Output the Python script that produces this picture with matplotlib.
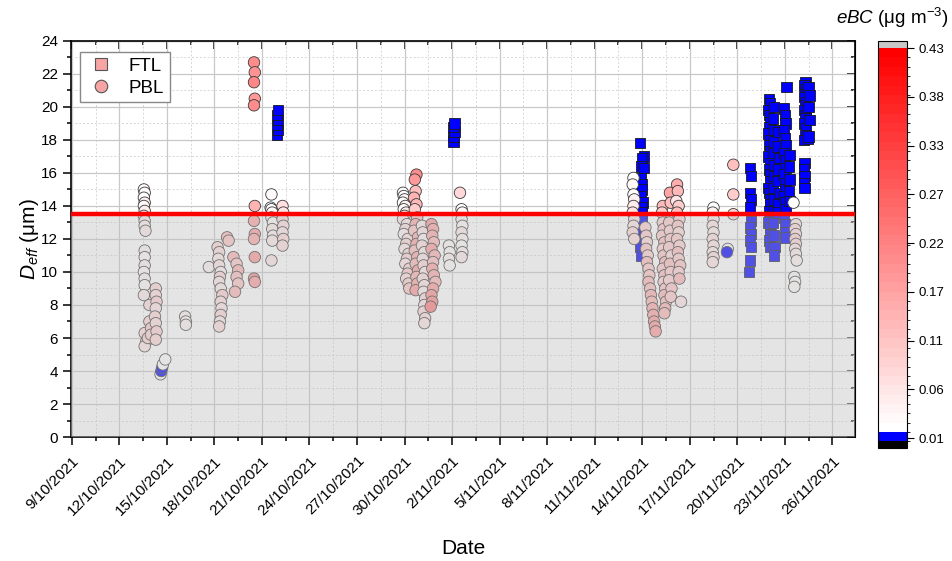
import matplotlib.pyplot as plt
import matplotlib.dates as mdates
import matplotlib.colors as mcolors
from matplotlib.ticker import FixedLocator, FuncFormatter, MultipleLocator
from matplotlib.lines import Line2D
import numpy as np
from datetime import datetime

start = datetime(2021, 10, 9)

# PBL (circles): time in days after 9/10/2021, Deff in um, eBC in ug m-3
pbl_day = [
    4.55, 4.60, 4.55, 4.60, 4.55, 4.60, 4.55, 4.60, 4.60, 4.65, 4.60, 4.60, 4.60, 4.55, 4.60, 4.60, 4.55,
    4.60, 4.70, 4.60, 4.80, 4.90, 4.90, 5.00, 5.00, 5.30, 5.30, 5.35, 5.30, 5.25, 5.30, 5.35, 5.30,
    5.60, 5.65, 5.70, 5.75, 5.90,
    7.15, 7.20, 7.20,
    8.65,
    9.20, 9.30, 9.25, 9.30, 9.40, 9.35, 9.30, 9.40, 9.50, 9.40, 9.45, 9.40, 9.35, 9.30,
    9.80, 9.90, 10.20, 10.40, 10.50, 10.40, 10.50, 10.30,
    11.50, 11.55, 11.50, 11.55, 11.50, 11.55, 11.50, 11.55, 11.50, 11.55, 11.50, 11.55,
    12.60, 12.55, 12.60, 12.65, 12.60, 12.70, 12.65, 12.70, 12.65, 12.60,
    13.30, 13.35, 13.30, 13.35, 13.30, 13.35, 13.30,
    20.90, 20.95, 21.00, 20.90, 21.05, 20.95, 21.10, 21.00, 20.90, 21.15, 21.05, 20.95, 21.20, 21.10,
    21.00, 21.25, 21.15, 21.05, 21.30, 21.20, 21.10, 21.25, 21.30,
    21.75, 21.65, 21.70, 21.60, 21.75, 21.65, 21.80, 21.70, 21.60, 21.85, 21.75, 21.65, 21.80, 21.70,
    21.85, 21.75, 21.80, 21.70,
    22.10, 22.15, 22.20, 22.10, 22.25, 22.15, 22.20, 22.30, 22.15, 22.25, 22.20, 22.30, 22.25, 22.20,
    22.30, 22.25,
    22.70, 22.80, 22.75, 22.85, 22.70, 22.90, 22.80, 22.75, 22.85, 22.95, 22.80, 22.70, 22.75, 22.65,
    23.80, 23.85, 23.80, 23.85,
    24.50, 24.60, 24.65, 24.60, 24.65, 24.60, 24.65, 24.60, 24.65, 24.60,
    35.45, 35.40, 35.45, 35.50, 35.45, 35.40, 35.50, 35.45, 35.40, 35.50,
    36.20, 36.25, 36.30, 36.25, 36.35, 36.30, 36.40, 36.45, 36.40, 36.50, 36.55, 36.60, 36.65, 36.70,
    36.75, 36.80, 36.85,
    37.30, 37.25, 37.30, 37.35, 37.25, 37.40, 37.30, 37.35, 37.45, 37.30, 37.40, 37.35, 37.45, 37.40,
    37.50, 37.45, 37.40,
    37.75, 37.80, 37.70, 37.75, 37.80, 37.70, 37.85, 37.75, 37.80, 37.70, 37.85, 37.80,
    38.20, 38.25, 38.15, 38.30, 38.20, 38.35, 38.25, 38.30, 38.20, 38.35, 38.25, 38.30, 38.40, 38.30,
    38.35, 38.45,
    40.50, 40.45, 40.50, 40.45, 40.50, 40.45, 40.50, 40.45, 40.50, 40.45,
    41.75, 41.75, 41.75, 41.40, 41.35,
    45.55, 45.70, 45.65, 45.70, 45.65, 45.70, 45.65, 45.70, 45.75, 45.60, 45.65, 45.60,
]
pbl_deff = [
    15.0, 14.8, 14.5, 14.2, 14.0, 13.7, 13.4, 13.1, 12.8, 12.5, 11.3, 10.9, 10.4, 10.0, 9.6, 9.2, 8.6,
    6.3, 5.8, 5.5, 6.0, 8.0, 7.0, 6.6, 6.2, 9.0, 8.6, 8.2, 7.8, 7.3, 6.9, 6.4, 5.9,
    3.8, 4.0, 4.2, 4.4, 4.7,
    7.3, 7.0, 6.8,
    10.3,
    11.5, 11.2, 10.8, 10.4, 10.0, 9.7, 9.4, 9.0, 8.6, 8.2, 7.8, 7.4, 7.0, 6.7,
    12.1, 11.9, 10.9, 10.5, 10.1, 9.7, 9.3, 8.8,
    22.7, 22.1, 21.5, 20.5, 20.1, 14.0, 13.1, 12.3, 12.0, 10.9, 9.6, 9.4,
    14.7, 13.9, 13.8, 13.6, 13.3, 13.0, 12.6, 12.2, 11.9, 10.7,
    14.0, 13.6, 13.2, 12.8, 12.4, 12.0, 11.6,
    14.8, 14.6, 14.4, 14.2, 14.0, 13.8, 13.6, 13.4, 13.2, 12.9, 12.6, 12.3, 12.0, 11.7,
    11.4, 11.1, 10.8, 10.5, 10.2, 9.9, 9.6, 9.3, 9.0,
    15.9, 15.6, 14.9, 14.5, 14.1, 13.8, 13.3, 12.9, 12.5, 12.1, 11.7, 11.3, 10.9, 10.5,
    10.1, 9.7, 9.3, 8.9,
    12.8, 12.4, 12.0, 11.6, 11.2, 10.8, 10.4, 10.0, 9.6, 9.2, 8.8, 8.4, 8.0, 7.6,
    7.2, 6.9,
    12.9, 12.6, 12.2, 11.8, 11.4, 11.0, 10.6, 10.2, 9.8, 9.4, 9.0, 8.6, 8.2, 7.9,
    11.6, 11.2, 10.8, 10.4,
    14.8, 13.8, 13.6, 13.2, 12.8, 12.4, 12.0, 11.6, 11.2, 10.9,
    15.7, 15.3, 14.7, 14.4, 14.0, 13.6, 13.2, 12.8, 12.4, 12.0,
    12.7, 12.2, 11.8, 11.4, 11.0, 10.6, 10.2, 9.8, 9.4, 9.0, 8.6, 8.2, 7.8, 7.4,
    7.0, 6.7, 6.4,
    14.0, 13.6, 13.0, 12.6, 12.2, 11.8, 11.4, 11.0, 10.6, 10.2, 9.8, 9.4, 9.0, 8.6,
    8.2, 7.8, 7.5,
    14.8, 14.2, 13.0, 12.5, 12.0, 11.5, 11.0, 10.5, 10.0, 9.5, 9.0, 8.5,
    15.3, 14.9, 14.3, 14.0, 13.6, 13.2, 12.8, 12.4, 12.0, 11.6, 11.2, 10.8, 10.4, 10.0,
    9.6, 8.2,
    13.9, 13.6, 13.2, 12.8, 12.4, 12.0, 11.6, 11.2, 10.9, 10.6,
    16.5, 14.7, 13.5, 11.4, 11.2,
    14.2, 12.9, 12.6, 12.3, 12.0, 11.7, 11.4, 11.1, 10.7, 9.7, 9.4, 9.1,
]
pbl_ebc = [
    0.02, 0.03, 0.02, 0.04, 0.03, 0.05, 0.04, 0.05, 0.04, 0.05, 0.04, 0.03, 0.04, 0.03, 0.04, 0.03, 0.05,
    0.07, 0.08, 0.06, 0.09, 0.07, 0.08, 0.10, 0.09, 0.08, 0.07, 0.09, 0.06, 0.08, 0.07, 0.09, 0.08,
    0.03, 0.01, 0.01, 0.02, 0.02,
    0.04, 0.03, 0.04,
    0.04,
    0.08, 0.07, 0.05, 0.06, 0.04, 0.08, 0.06, 0.05, 0.09, 0.07, 0.06, 0.08, 0.05, 0.07,
    0.12, 0.11, 0.13, 0.10, 0.14, 0.12, 0.11, 0.13,
    0.20, 0.19, 0.21, 0.18, 0.20, 0.14, 0.16, 0.17, 0.15, 0.18, 0.19, 0.17,
    0.03, 0.02, 0.02, 0.03, 0.04, 0.03, 0.05, 0.04, 0.05, 0.06,
    0.07, 0.06, 0.08, 0.07, 0.06, 0.08, 0.07,
    0.02, 0.02, 0.03, 0.02, 0.04, 0.03, 0.05, 0.04, 0.06, 0.05, 0.07, 0.04, 0.06, 0.08,
    0.05, 0.07, 0.09, 0.06, 0.08, 0.10, 0.07, 0.09, 0.11,
    0.20, 0.18, 0.12, 0.14, 0.13, 0.10, 0.12, 0.15, 0.11, 0.14, 0.16, 0.12, 0.15, 0.13,
    0.17, 0.14, 0.16, 0.18,
    0.05, 0.06, 0.04, 0.07, 0.05, 0.06, 0.08, 0.05, 0.07, 0.06, 0.05, 0.07, 0.06, 0.08,
    0.07, 0.06,
    0.18, 0.16, 0.15, 0.13, 0.17, 0.14, 0.12, 0.16, 0.15, 0.13, 0.17, 0.19, 0.20, 0.22,
    0.03, 0.03, 0.04, 0.03,
    0.08, 0.02, 0.03, 0.04, 0.03, 0.05, 0.04, 0.03, 0.04, 0.05,
    0.02, 0.03, 0.02, 0.04, 0.05, 0.06, 0.07, 0.06, 0.08, 0.07,
    0.09, 0.10, 0.08, 0.11, 0.09, 0.12, 0.10, 0.11, 0.13, 0.12, 0.14, 0.13, 0.15, 0.16,
    0.17, 0.18, 0.17,
    0.13, 0.10, 0.09, 0.11, 0.10, 0.12, 0.09, 0.11, 0.13, 0.10, 0.12, 0.09, 0.11, 0.13,
    0.12, 0.14, 0.13,
    0.16, 0.12, 0.10, 0.09, 0.11, 0.10, 0.08, 0.12, 0.10, 0.09, 0.11, 0.10,
    0.15, 0.13, 0.06, 0.10, 0.12, 0.09, 0.11, 0.08, 0.10, 0.09, 0.12, 0.10, 0.11, 0.09,
    0.13, 0.06,
    0.02, 0.04, 0.05, 0.06, 0.05, 0.07, 0.06, 0.05, 0.07, 0.06,
    0.12, 0.10, 0.09, 0.03, 0.01,
    0.02, 0.06, 0.08, 0.07, 0.09, 0.08, 0.06, 0.05, 0.04, 0.03, 0.02, 0.03,
]

# FTL (squares)
ftl_day = [
    12.95, 13.00, 12.95, 13.00, 12.95, 13.00,
    24.10, 24.10, 24.15, 24.10, 24.15,
    35.85, 36.10, 36.00, 35.95, 36.10, 35.90, 35.95, 36.00, 35.90, 36.05, 35.95, 36.00, 35.95, 35.90,
    35.95, 35.90, 35.95,
    42.80, 42.85, 42.80, 42.85, 42.80, 42.85, 42.80, 42.85, 42.80, 42.85, 42.80, 42.75,
    44.00, 44.05, 43.95, 44.00, 44.10, 44.00, 43.95, 44.05, 44.00, 44.10, 43.95, 44.05, 44.00, 44.10,
    44.05, 43.95, 44.00, 44.10, 44.05, 44.00, 44.10, 43.95, 44.05, 44.10, 44.00, 44.05,
    44.30, 44.25, 44.35, 44.30, 44.25, 44.35, 44.30, 44.25, 44.35, 44.30, 44.25, 44.30, 44.35, 44.30,
    44.60, 44.55, 44.65, 44.60, 44.55, 44.65, 44.60, 44.55,
    45.10, 44.95, 45.00, 45.05, 44.95, 45.00, 45.05, 44.95, 45.00, 45.05, 44.95, 45.00, 45.05, 44.95,
    45.00, 45.05, 44.95, 45.00, 45.05, 45.00,
    45.30, 45.25, 45.30, 45.25, 45.30,
    46.30, 46.25, 46.35, 46.30, 46.25, 46.35, 46.30, 46.25, 46.35, 46.30, 46.25, 46.35, 46.30, 46.20,
    46.45, 46.25, 46.20, 46.25, 46.20, 46.25,
    46.50, 46.55, 46.50, 46.55, 46.50,
]
ftl_deff = [
    18.3, 18.6, 18.9, 19.2, 19.5, 19.8,
    17.9, 18.2, 18.5, 18.8, 19.0,
    17.8, 17.0, 16.9, 16.4, 16.3, 15.7, 15.3, 15.0, 14.6, 14.2, 13.9, 13.6, 13.2, 12.6,
    12.0, 11.5, 11.0,
    16.3, 15.8, 14.8, 14.4, 13.9, 13.1, 12.7, 12.3, 11.9, 11.5, 10.7, 10.0,
    20.5, 20.2, 19.8, 19.5, 19.1, 18.8, 18.4, 18.0, 17.7, 17.3, 17.0, 16.6, 16.2, 15.9,
    15.5, 15.1, 14.8, 14.4, 14.1, 13.7, 13.4, 13.0, 12.7, 12.3, 11.9, 11.5,
    20.0, 19.3, 18.6, 17.9, 17.2, 16.5, 15.8, 15.1, 14.4, 13.7, 13.0, 12.2, 11.5, 11.0,
    18.5, 17.6, 16.9, 16.2, 15.5, 14.8, 14.1, 13.6,
    21.2, 19.9, 19.5, 19.0, 18.6, 18.1, 17.7, 17.2, 16.8, 16.3, 15.9, 15.4, 15.0, 14.6,
    14.2, 13.8, 13.3, 12.9, 12.4, 12.1,
    17.1, 16.4, 15.6, 14.9, 14.3,
    21.5, 21.3, 21.1, 20.8, 20.6, 20.3, 20.1, 19.8, 19.5, 19.3, 19.0, 18.7, 18.3, 18.0,
    18.1, 16.6, 16.2, 15.8, 15.4, 15.1,
    21.2, 20.7, 20.0, 19.2, 18.2,
]
ftl_ebc = [
    0.010, 0.011, 0.009, 0.012, 0.010, 0.011,
    0.010, 0.012, 0.011, 0.009, 0.010,
    0.011, 0.010, 0.012, 0.009, 0.010, 0.011, 0.013, 0.010, 0.012, 0.009, 0.011, 0.010, 0.012, 0.011,
    0.010, 0.009, 0.011,
    0.010, 0.012, 0.011, 0.009, 0.010, 0.013, 0.011, 0.010, 0.012, 0.009, 0.011, 0.010,
    0.010, 0.011, 0.009, 0.012, 0.010, 0.011, 0.013, 0.010, 0.012, 0.009, 0.011, 0.010, 0.012, 0.011,
    0.010, 0.009, 0.011, 0.012, 0.010, 0.011, 0.009, 0.012, 0.010, 0.011, 0.013, 0.010,
    0.011, 0.010, 0.012, 0.009, 0.010, 0.011, 0.012, 0.010, 0.011, 0.009, 0.012, 0.010, 0.011, 0.010,
    0.010, 0.012, 0.011, 0.009, 0.010, 0.011, 0.012, 0.010,
    0.011, 0.010, 0.012, 0.009, 0.010, 0.011, 0.013, 0.010, 0.012, 0.009, 0.011, 0.010, 0.012, 0.011,
    0.010, 0.009, 0.011, 0.012, 0.010, 0.011,
    0.010, 0.011, 0.009, 0.012, 0.010,
    0.010, 0.012, 0.011, 0.009, 0.010, 0.011, 0.013, 0.010, 0.012, 0.009, 0.011, 0.010, 0.012, 0.011,
    0.010, 0.009, 0.011, 0.012, 0.010, 0.011,
    0.011, 0.010, 0.012, 0.009, 0.010,
]

threshold = 13.5
cbar_ticks = [0.01, 0.0625, 0.115, 0.1675, 0.22, 0.2725, 0.325, 0.3775, 0.43]
cbar_labels = ['0.01', '0.06', '0.11', '0.17', '0.22', '0.27', '0.33', '0.38', '0.43']

plt.rcParams['font.family'] = ['Liberation Sans', 'DejaVu Sans']
plt.rcParams['mathtext.fontset'] = 'custom'
plt.rcParams['mathtext.rm'] = 'Liberation Sans'
plt.rcParams['mathtext.it'] = 'Liberation Sans:italic'

base = mdates.date2num(start)
pbl_x = base + np.array(pbl_day)
ftl_x = base + np.array(ftl_day)

# blue lowest bin, then white -> red, black under, grey over
n_red = 41
reds = [(1.0, 1 - f, 1 - f) for f in np.linspace(0, 1, n_red)]
cmap = mcolors.ListedColormap([(0, 0, 1)] + reds)
cmap.set_under('black')
cmap.set_over('#c8c8c8')
bounds = np.concatenate([[0.007], np.linspace(0.0165, 0.43, n_red + 1)])
norm = mcolors.BoundaryNorm(bounds, cmap.N)

fig = plt.figure(figsize=(9.53, 5.61), dpi=100)
ax = fig.add_axes([0.0745, 0.221, 0.823, 0.706])

ax.scatter(ftl_x, ftl_deff, c=ftl_ebc, cmap=cmap, norm=norm, marker='s', s=56,
           edgecolors='#1a1a1a', linewidths=0.6, zorder=2)
sc = ax.scatter(pbl_x, pbl_deff, c=pbl_ebc, cmap=cmap, norm=norm, marker='o', s=68,
                edgecolors='#3a3a3a', linewidths=0.6, zorder=2.1)

# grey band under the threshold, drawn over the points
ax.axhspan(0, threshold, color='#c0c0c0', alpha=0.42, lw=0, zorder=3)
ax.axhline(threshold, color='red', lw=3.2, zorder=4)

ax.set_xlim(base - 0.05, base + 49.45)
ax.set_ylim(0, 24)

major_x = base + np.arange(0, 49, 3)
minor_x = base + np.arange(0, 50, 1.5)
ax.xaxis.set_major_locator(FixedLocator(major_x))
ax.xaxis.set_minor_locator(FixedLocator(minor_x))


def date_label(v, pos):
    d = mdates.num2date(v)
    return f"{d.day}/{d.month}/{d.year}"


ax.xaxis.set_major_formatter(FuncFormatter(date_label))
ax.yaxis.set_major_locator(MultipleLocator(2))
ax.yaxis.set_minor_locator(MultipleLocator(1))

ax.tick_params(which='both', direction='out', labelsize=11, width=1.1)
ax.tick_params(which='major', length=6)
ax.tick_params(which='minor', length=3)
ax.tick_params(axis='x', pad=6)
plt.setp(ax.get_xticklabels(), rotation=45, ha='right', rotation_mode='anchor')

top = ax.secondary_xaxis('top')
top.xaxis.set_major_locator(FixedLocator(major_x))
top.xaxis.set_minor_locator(FixedLocator(minor_x))
top.tick_params(which='both', direction='in', labeltop=False, width=1.1)
top.tick_params(which='major', length=6)
top.tick_params(which='minor', length=3)

right = ax.secondary_yaxis('right')
right.yaxis.set_major_locator(MultipleLocator(2))
right.yaxis.set_minor_locator(MultipleLocator(1))
right.tick_params(which='both', direction='in', labelright=False, width=1.1)
right.tick_params(which='major', length=6)
right.tick_params(which='minor', length=3)

for s in ax.spines.values():
    s.set_linewidth(1.2)

ax.grid(which='major', color='#c8c8c8', lw=0.9)
ax.grid(which='minor', color='#d6d6d6', lw=0.7, ls=(0, (2, 2)))
ax.set_axisbelow(True)

ax.set_ylabel(r'$D_{eff}$ (μm)', fontsize=15, labelpad=0)
ax.set_xlabel('Date', fontsize=15, labelpad=15)

handles = [
    Line2D([], [], marker='s', ls='none', ms=8, mfc='#f6a4a4', mec='#555555', mew=0.8, label='FTL'),
    Line2D([], [], marker='o', ls='none', ms=9, mfc='#f6a4a4', mec='#555555', mew=0.8, label='PBL'),
]
leg = ax.legend(handles=handles, loc='upper left', bbox_to_anchor=(0.0115, 0.972), fontsize=13.5,
                fancybox=False, edgecolor='#888888', framealpha=1, borderaxespad=0,
                handletextpad=0.7, handlelength=1.6, borderpad=0.3, labelspacing=0.25)
leg.get_frame().set_linewidth(1.0)
leg.set_zorder(10)

cax = fig.add_axes([0.9213, 0.2014, 0.0304, 0.7255])
cb = fig.colorbar(sc, cax=cax, extend='both', extendrect=True, extendfrac=0.018,
                  spacing='proportional', ticks=cbar_ticks)
cb.set_ticklabels(cbar_labels)
cb.ax.tick_params(labelsize=9.5, length=5, width=0.8, direction='out')
cb.outline.set_linewidth(0.8)
fig.text(892 / 953, 1 - 18 / 561, r'$\it{eBC}$ (μg m$^{-3}$)', ha='center', va='center', fontsize=13.5)

fig.savefig('out.png', dpi=100)
